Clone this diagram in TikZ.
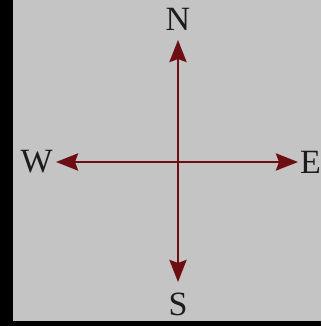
\documentclass[tikz,border=0pt]{standalone}
\usepackage{fontspec}
\setmainfont{Liberation Serif}
\usetikzlibrary{arrows.meta}
\definecolor{bggray}{RGB}{196,196,196}
\definecolor{maroon}{RGB}{108,14,18}
\definecolor{ink}{RGB}{28,28,28}
\begin{document}
\begin{tikzpicture}[x=1pt,y=-1pt,
  dirlabel/.style={inner sep=0pt,text=ink,font=\fontsize{34}{34}\selectfont},
  axis/.style={draw=maroon,line width=2.8pt,
    {Stealth[length=22pt,width=17pt,inset=3pt]}-{Stealth[length=22pt,width=17pt,inset=3pt]}}]
\useasboundingbox (0,0) rectangle (321,326);
\fill[black] (0,0) rectangle (321,326);
\fill[bggray] (13,0) rectangle (321,321);
\node[dirlabel,anchor=south] (N) at (178,31) {N};
\node[dirlabel,anchor=north] (S) at (178,293) {S};
\node[dirlabel,anchor=east] (W) at (53,162) {W};
\node[dirlabel,anchor=west] (E) at (300,162) {E};
\draw[axis,shorten <=9pt,shorten >=11pt] (N) -- (S);
\draw[axis,shorten <=3pt,shorten >=2pt] (W) -- (E);
\end{tikzpicture}
\end{document}
